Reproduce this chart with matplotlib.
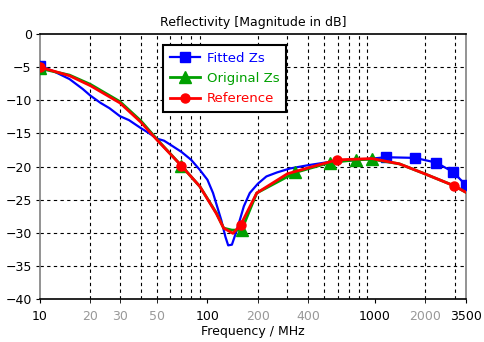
import numpy as np
import matplotlib
matplotlib.use("Agg")
import matplotlib.pyplot as plt
from matplotlib.ticker import FixedLocator


# Reference curve (MHz, dB)
ref_f = [10, 15, 20, 30, 40, 50, 70, 90, 113, 125, 142, 158, 197, 300, 400, 593, 960, 1400, 1940, 2965, 3500]
ref_db = [-5.0, -6.3, -7.8, -10.4, -13.3, -16.0, -19.9, -23.0, -27.1, -29.3, -30.1, -28.8, -24.0, -21.1, -20.2, -19.0, -18.8, -19.6, -21.0, -22.9, -23.9]
ref_marks = [0, 6, 11, 15, 19]

# Original Zs
orig_f = [10, 15, 20, 30, 40, 50, 70, 90, 113, 125, 140, 160, 197, 335, 540, 770, 960, 1400, 1940, 2965, 3500]
orig_db = [-5.2, -6.2, -7.6, -10.2, -13.1, -15.9, -19.9, -23.0, -27.0, -29.3, -29.6, -29.6, -24.0, -20.9, -19.4, -19.0, -18.9, -19.6, -21.0, -22.9, -23.9]
orig_marks = [0, 6, 11, 13, 14, 15, 16]

# Fitted Zs
fit_f = [10, 12, 15, 18, 20, 23, 26, 30, 34, 40, 45, 50, 55, 60, 70, 80, 90, 100, 108, 121, 128,
         133, 140, 148, 156, 165, 179, 200, 225, 260, 311, 400, 538, 800, 1164, 1734, 2314, 2922, 3493]
fit_db = [-4.8, -5.6, -6.8, -8.3, -9.3, -10.4, -11.2, -12.4, -13.0, -14.2, -15.0, -15.8, -16.1, -16.7, -17.8, -19.0, -20.5, -22.0, -24.0, -28.1, -30.6,
          -31.9, -31.8, -30.0, -28.1, -26.0, -24.0, -22.6, -21.5, -20.9, -20.3, -19.8, -19.3, -19.0, -18.6, -18.7, -19.4, -20.8, -22.8]
fit_marks = [0, 34, 35, 36, 37, 38]

major_ticks = [10, 100, 1000, 3500]
minor_labels = [20, 30, 50, 200, 400, 2000]
grid_x = [20, 30, 40, 50, 60, 70, 80, 90, 200, 300, 400, 500, 600, 700, 800, 900, 2000, 3000]

fig = plt.figure(figsize=(4.84, 3.42), dpi=100)
ax = fig.add_axes([0.0826, 0.1257, 0.8802, 0.7749])

ax.plot(fit_f, fit_db, color='#0000ff', lw=1.6, marker='s', ms=7.5, markevery=fit_marks,
        label='Fitted Zs', zorder=3)
ax.plot(orig_f, orig_db, color='#00a000', lw=2.0, marker='^', ms=9, markevery=orig_marks,
        label='Original Zs', zorder=4)
ax.plot(ref_f, ref_db, color='#ff0000', lw=2.0, marker='o', ms=6.5, markevery=ref_marks,
        label='Reference', zorder=5)

ax.set_xscale('log')
ax.set_xlim(10, 3500)
ax.set_ylim(-40, 0)
ax.set_yticks(np.arange(-40, 1, 5))

ax.xaxis.set_major_locator(FixedLocator(major_ticks))
ax.set_xticklabels([str(v) for v in major_ticks])
ax.xaxis.set_minor_locator(FixedLocator(minor_labels))
ax.set_xticklabels([str(v) for v in minor_labels], minor=True)
for lab in ax.get_xticklabels(minor=True):
    lab.set_color('#999999')

for gx in grid_x:
    ax.axvline(gx, color='black', lw=0.8, ls=(0, (3, 3)), zorder=1)
for gy in range(-35, 0, 5):
    ax.axhline(gy, color='black', lw=0.8, ls=(0, (3, 3)), zorder=1)

ax.tick_params(axis='both', which='both', direction='out', length=3, labelsize=9, pad=3)
ax.tick_params(axis='x', which='both', pad=5)

ax.spines['left'].set_color('#808080')
ax.spines['right'].set_color('#808080')
ax.spines['top'].set_color('black')
ax.spines['bottom'].set_color('black')
for s in ax.spines.values():
    s.set_linewidth(1.2)

ax.set_title('Reflectivity [Magnitude in dB]', fontsize=9, pad=6)
ax.set_xlabel('Frequency / MHz', fontsize=9, labelpad=1)

leg = ax.legend(loc='upper left', bbox_to_anchor=(0.289, 0.958), borderaxespad=0,
                fontsize=9.5, fancybox=False, framealpha=1, edgecolor='black',
                handlelength=2.3, handletextpad=0.5, borderpad=0.5, labelspacing=0.55)
leg.get_frame().set_linewidth(1.5)
for txt, c in zip(leg.get_texts(), ['#0000ff', '#00a000', '#ff0000']):
    txt.set_color(c)

fig.savefig('out.png', dpi=100)
